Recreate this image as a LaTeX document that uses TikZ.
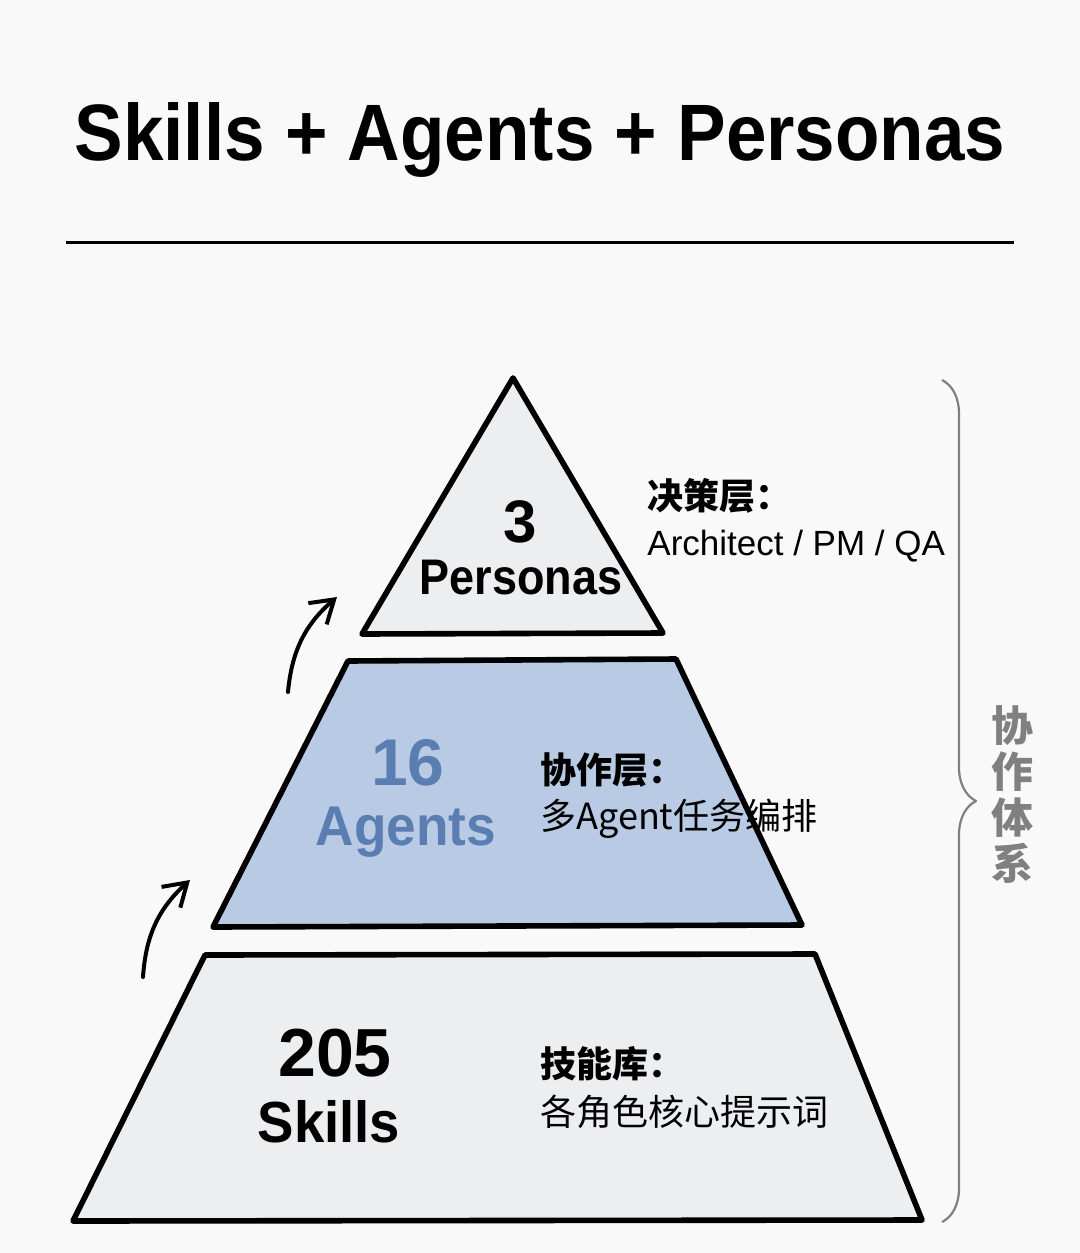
\documentclass[tikz,border=0pt]{standalone}
\usepackage{fontspec}
\usepackage{graphicx}
\usepackage{xcolor}
\setmainfont{Liberation Sans}
\newfontfamily\cjk{Noto Sans CJK SC}
\usetikzlibrary{arrows.meta,decorations.pathreplacing}
\definecolor{bgcol}{HTML}{F9F9F9}
\definecolor{layergray}{HTML}{EDEEF0}
\definecolor{layerblue}{HTML}{B9CBE4}
\definecolor{agentblue}{HTML}{5B7EB2}
\definecolor{bracegray}{HTML}{808080}

\begin{document}
\begin{tikzpicture}[x=0.5pt, y=-0.5pt, line join=round, >={Straight Barb[length=11pt,width=14pt]},
  layer/.style={draw=black, line width=2.8pt},
  count/.style={inner sep=0pt, anchor=base, font=\bfseries},
  desc/.style={inner sep=0pt, anchor=base west, font=\cjk\fontsize{18}{22}\selectfont},
  head/.style={desc, font=\cjk\bfseries\fontsize{18}{22}\selectfont},
  climb/.style={->, line width=2pt, line cap=round, bend left=22}]
\fill[bgcol] (0,0) rectangle (1080,1253);
\useasboundingbox (0,0) rectangle (1080,1253);

\node[count, font=\bfseries\fontsize{40}{48}\selectfont] (title) at (540,160) {\scalebox{0.91}[1]{Skills + Agents + Personas}};
\draw[line width=1.5pt] (66,242) -- (1014,242);

\draw[layer, fill=layergray] (513,378) -- (663,633) -- (362,634) -- cycle;
\draw[layer, fill=layerblue] (348,661) -- (676,659) -- (802,925) -- (213,927) -- cycle;
\draw[layer, fill=layergray] (205,955) -- (815,954) -- (922,1220) -- (73,1221) -- cycle;

\node[count] (three) at (520,542) {\fontsize{30}{34}\selectfont 3};
\node[count] (personas) at (521,594) {\fontsize{25}{30}\selectfont\scalebox{0.9}[1]{Personas}};
\node[head] (decide) at (647,509) {决策层：};
\node[desc] (roles) at (647,555) {\rmfamily\fontsize{17.5}{22}\selectfont Architect / PM / QA};

\node[count, text=agentblue] (sixteen) at (408,785) {\fontsize{33}{40}\selectfont 16};
\node[count, text=agentblue] (agents) at (406,845) {\fontsize{28}{34}\selectfont\scalebox{0.95}[1]{Agents}};
\node[head] (collab) at (540,783) {协作层：};
\node[desc] (orch) at (540,829) {多Agent任务编排};

\node[count] (count205) at (335,1076) {\fontsize{34}{40}\selectfont 205};
\node[count] (skills) at (329,1142) {\fontsize{29}{34}\selectfont\scalebox{0.94}[1]{Skills}};
\node[head] (library) at (540,1077) {技能库：};
\node[desc] (prompts) at (540,1125) {各角色核心提示词};

\coordinate (up1s) at (143,977);
\coordinate (up1e) at (190,880);
\coordinate (up2s) at (288,692);
\coordinate (up2e) at (337,597);
\draw[climb] (up1s) to (up1e);
\draw[climb] (up2s) to (up2e);

\draw[bracegray, line width=1.1pt, decorate, decoration={brace, amplitude=17pt}] (942,380) -- (942,1222);
\node[text=bracegray, font=\cjk\bfseries\fontsize{21}{23}\selectfont, align=center, inner sep=0pt] (system) at (1012,795) {协\\作\\体\\系};
\end{tikzpicture}
\end{document}
